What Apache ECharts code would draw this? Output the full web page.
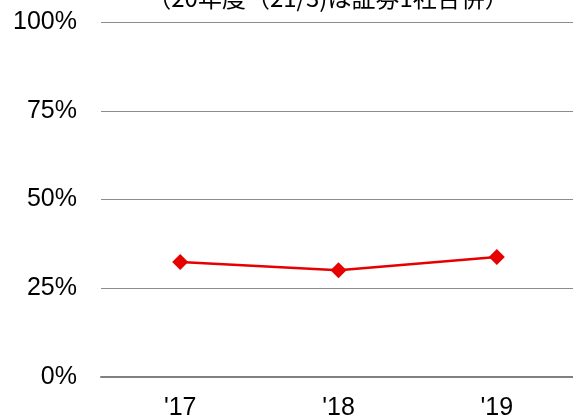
<!DOCTYPE html>
<html><head><meta charset="utf-8">
<script src="https://cdn.jsdelivr.net/npm/echarts@6/dist/echarts.min.js"></script>
<style>html,body{margin:0;padding:0;background:#fff}#c{width:573px;height:419px}</style>
</head><body><div id="c"></div>
<script>
const titleText = "（20年度（21/3)は証券1社合併）";
const categories = ["'17", "'18", "'19"];
const values = [32.4, 30.1, 33.8];
const yTicks = [0, 25, 50, 75, 100];

const chart = echarts.init(document.getElementById('c'));
chart.setOption({
  animation: false,
  title: {
    text: titleText, left: 323, top: -19, textAlign: 'center',
    textStyle: { fontSize: 24, fontWeight: 'normal', color: '#000', fontFamily: '"Noto Sans CJK JP", "Liberation Sans", sans-serif' }
  },
  grid: { left: 101, top: 22, width: 475, bottom: 42, containLabel: false, outerBoundsMode: 'none' },
  xAxis: {
    type: 'category', data: categories, boundaryGap: true,
    axisLine: { show: true, lineStyle: { color: '#808080', width: 2 } },
    axisTick: { show: false },
    axisLabel: { fontSize: 25, color: '#000', margin: 19, fontFamily: '"Liberation Sans", Arial, sans-serif' }
  },
  yAxis: {
    type: 'value', min: 0, max: 100, interval: 25,
    axisLine: { show: false }, axisTick: { show: false },
    axisLabel: { fontSize: 25, color: '#000', margin: 24, formatter: v => v + '%', fontFamily: '"Liberation Sans", Arial, sans-serif' },
    splitLine: { lineStyle: { color: '#8c8c8c', width: 1 } }
  },
  series: [{
    type: 'line', data: values,
    symbol: 'diamond', symbolSize: 16,
    lineStyle: { color: '#e60000', width: 2.5 },
    itemStyle: { color: '#e60000' }
  }]
});
</script></body></html>
